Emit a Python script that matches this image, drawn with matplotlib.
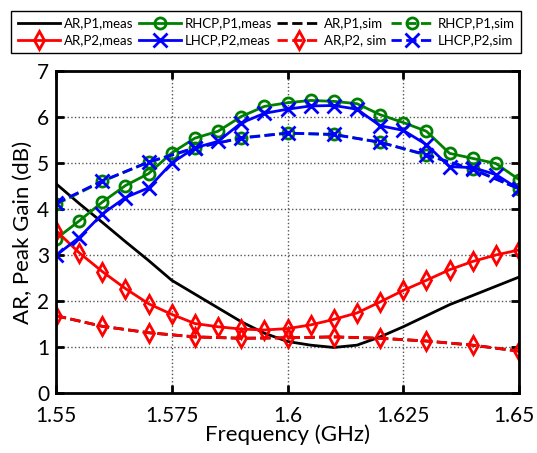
import matplotlib
matplotlib.use("Agg")
from matplotlib import pyplot as plt
from matplotlib.transforms import ScaledTranslation

plt.rcParams['font.family'] = ['Lato', 'DejaVu Sans']

# measured frequencies (GHz), 5 MHz step
f_meas = [1.550, 1.555, 1.560, 1.565, 1.570, 1.575, 1.580, 1.585, 1.590, 1.595, 1.600,
          1.605, 1.610, 1.615, 1.620, 1.625, 1.630, 1.635, 1.640, 1.645, 1.650]
# simulated frequencies (GHz), 10 MHz step
f_sim = [1.55, 1.56, 1.57, 1.58, 1.59, 1.60, 1.61, 1.62, 1.63, 1.64, 1.65]

ar_p1_meas = [4.55, 4.12, 3.71, 3.29, 2.88, 2.45, 2.15, 1.85, 1.55, 1.30, 1.12,
              1.04, 0.99, 1.04, 1.22, 1.44, 1.68, 1.92, 2.12, 2.32, 2.52]
ar_p2_meas = [3.53, 3.05, 2.64, 2.27, 1.94, 1.71, 1.51, 1.44, 1.39, 1.37, 1.40,
              1.48, 1.60, 1.74, 1.98, 2.23, 2.45, 2.68, 2.86, 3.00, 3.11]
rhcp_p1_meas = [3.35, 3.74, 4.15, 4.51, 4.77, 5.22, 5.54, 5.69, 6.01, 6.23, 6.31,
                6.36, 6.34, 6.29, 6.05, 5.88, 5.69, 5.21, 5.10, 4.99, 4.64]
lhcp_p2_meas = [2.99, 3.38, 3.89, 4.25, 4.46, 5.00, 5.33, 5.47, 5.87, 6.08, 6.17,
                6.24, 6.25, 6.17, 5.81, 5.71, 5.40, 4.92, 4.90, 4.75, 4.43]

ar_p1_sim = [1.68, 1.45, 1.31, 1.22, 1.19, 1.20, 1.22, 1.19, 1.13, 1.04, 0.91]
ar_p2_sim = [1.68, 1.45, 1.31, 1.22, 1.19, 1.20, 1.22, 1.19, 1.13, 1.04, 0.91]
rhcp_p1_sim = [4.10, 4.60, 5.02, 5.32, 5.55, 5.65, 5.62, 5.45, 5.17, 4.87, 4.44]
lhcp_p2_sim = [4.12, 4.61, 5.02, 5.33, 5.54, 5.65, 5.62, 5.45, 5.18, 4.86, 4.44]

fig = plt.figure(figsize=(5.37, 4.53), dpi=100)
ax = fig.add_axes([56/537, 60/453, 463/537, 322/453])

lw = 2.0
mk = dict(markerfacecolor='none', markeredgewidth=2.0)

h1, = ax.plot(f_meas, ar_p1_meas, '-', color='black', lw=lw, label='AR,P1,meas')
h2, = ax.plot(f_meas, rhcp_p1_meas, '-', color='#008000', lw=lw, marker='o', ms=8, label='RHCP,P1,meas', **mk)
h3, = ax.plot(f_sim, ar_p1_sim, '--', color='black', lw=lw, label='AR,P1,sim')
h4, = ax.plot(f_sim, rhcp_p1_sim, '--', color='#008000', lw=lw, marker='o', ms=8, label='RHCP,P1,sim', **mk)
h5, = ax.plot(f_meas, ar_p2_meas, '-', color='red', lw=lw, marker='d', ms=9, label='AR,P2,meas', **mk)
h6, = ax.plot(f_meas, lhcp_p2_meas, '-', color='blue', lw=lw, marker='x', ms=10, label='LHCP,P2,meas', **mk)
h7, = ax.plot(f_sim, ar_p2_sim, '--', color='red', lw=lw, marker='d', ms=9, label='AR,P2, sim', **mk)
h8, = ax.plot(f_sim, lhcp_p2_sim, '--', color='blue', lw=lw, marker='x', ms=10, label='LHCP,P2,sim', **mk)

ax.set_xlim(1.55, 1.65)
ax.set_ylim(0, 7)
ax.set_xticks([1.55, 1.575, 1.6, 1.625, 1.65])
ax.set_xticklabels(['1.55', '1.575', '1.6', '1.625', '1.65'])
ax.set_yticks(range(8))
ax.grid(True, linestyle=':', color='#555555', linewidth=1.0)
ax.tick_params(direction='in', length=6, width=2, top=True, right=True, labelsize=15)
ax.tick_params(axis='x', pad=9)
ax.tick_params(axis='y', pad=5)
for s in ax.spines.values():
    s.set_linewidth(2)
ax.set_xlabel('Frequency (GHz)', fontsize=16, labelpad=-1)
ax.set_ylabel('AR, Peak Gain (dB)', fontsize=16, labelpad=3)

# nudge the last x label left so it stays inside the figure, as in the original
last = ax.get_xticklabels()[-1]
last.set_transform(last.get_transform() + ScaledTranslation(-4/72, 0, fig.dpi_scale_trans))

handles = [h1, h5, h2, h6, h3, h7, h4, h8]
leg = fig.legend(handles=handles, labels=[h.get_label() for h in handles],
                 ncol=4, loc='upper center', bbox_to_anchor=(266/537, 1 - 4/453),
                 fontsize=9.5, numpoints=1, handlelength=3.2, handletextpad=0.3,
                 columnspacing=0.4, borderpad=0.5, labelspacing=0.4,
                 fancybox=False, edgecolor='black', framealpha=1)
leg.get_frame().set_linewidth(1.0)

fig.savefig('out.png', dpi=100)
